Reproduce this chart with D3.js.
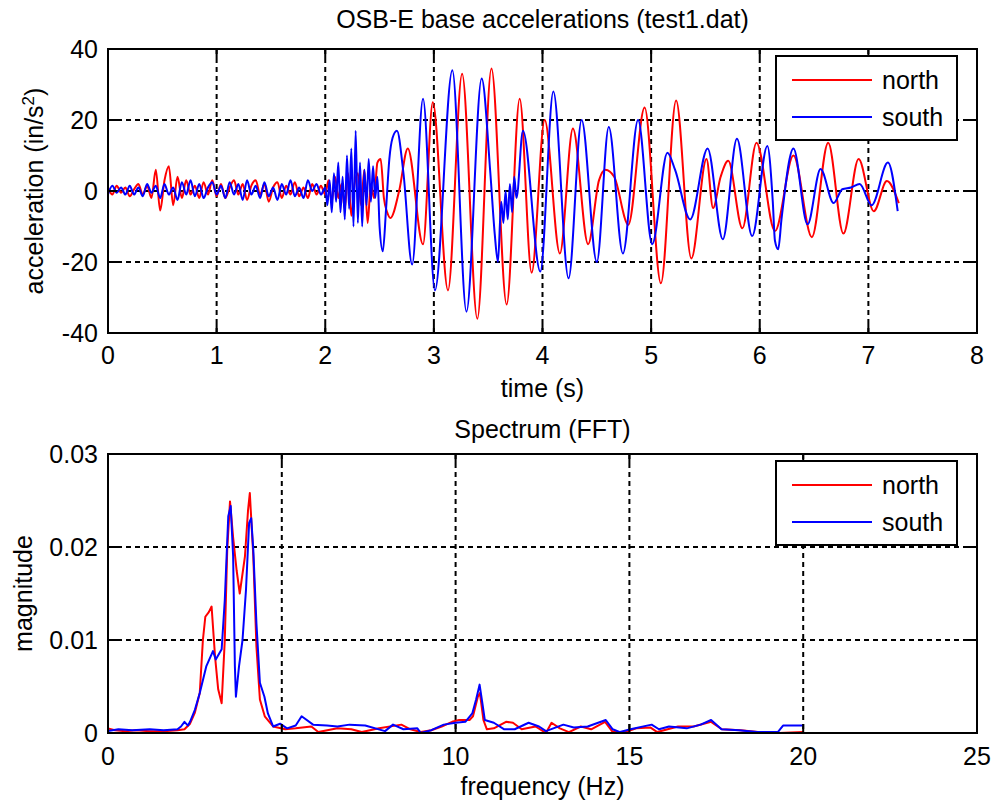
<!DOCTYPE html>
<html>
<head>
<meta charset="utf-8">
<script src="https://cdn.jsdelivr.net/npm/d3@7"></script>
<style>
    html, body { margin: 0; padding: 0; background: #fff; }
    svg { display: block; font-family: 'Liberation Sans', Arial, sans-serif; }
</style>
</head>
<body>
<div id="chart"></div>
<script>
// Tick values and series labels
const timeTicks = [0, 1, 2, 3, 4, 5, 6, 7, 8];
const accelTicks = [-40, -20, 0, 20, 40];
const freqTicks = [0, 5, 10, 15, 20, 25];
const magTicks = [0, 0.01, 0.02, 0.03];
const seriesNames = ['north', 'south'];

// Base accelerations, [time (s), acceleration (in/s^2)]
const northAccel = [
    [0, 1], [0.04, -1], [0.08, 1.5], [0.12, -0.5], [0.16, 1], [0.2, -1.5], [0.24, 0.5], [0.28, 2],
    [0.32, -1], [0.36, 1.5], [0.4, -2], [0.44, 6], [0.48, -5.5], [0.52, 3], [0.56, 7], [0.6, -4],
    [0.64, 4], [0.68, -2], [0.72, 3], [0.76, -1], [0.8, 1.5], [0.84, -2], [0.88, 2.5], [0.92, -1],
    [0.96, 3], [1, -1.5], [1.04, 2], [1.08, -2], [1.12, 1], [1.16, 3], [1.2, -1], [1.24, 2],
    [1.28, -2.5], [1.32, 1.5], [1.36, 3], [1.4, -1], [1.44, 2], [1.48, -3], [1.52, 1], [1.56, 2.5],
    [1.6, -2], [1.64, 1.5], [1.68, -1], [1.72, 2.5], [1.76, -1.5], [1.8, 1], [1.84, -2], [1.88, 2],
    [1.92, -1], [1.96, 1.5], [2, -1], [2.03, 3], [2.06, -3], [2.09, 4], [2.12, -2], [2.15, 2],
    [2.18, -5], [2.21, 5], [2.24, -7], [2.27, 2], [2.3, 5], [2.33, -4], [2.36, 6], [2.39, -9],
    [2.42, 2], [2.45, -2], [2.48, 8], [2.51, 9], [2.54, -2], [2.57, -6], [2.6, -7.6], [2.68, 0],
    [2.76, 12], [2.9, -15], [2.99, 25], [3.13, -28], [3.26, 33], [3.4, -36], [3.53, 34.5], [3.67, -32],
    [3.79, 26], [3.9, -23], [4.02, 20], [4.16, -17.6], [4.28, 17.6], [4.42, -15], [4.52, 3], [4.58, 6],
    [4.66, 4], [4.79, -9.5], [4.94, 23.5], [5.09, -26], [5.23, 25.5], [5.37, -19], [5.51, 9], [5.57, -4.8],
    [5.64, 4], [5.71, 8.5], [5.84, -10.5], [5.97, 13.6], [6.14, -11.3], [6.31, 10], [6.48, -13], [6.63, 13.6],
    [6.77, -12], [6.91, 9], [7.05, -5.7], [7.17, 2.8], [7.28, -3.4]
];

const southAccel = [
    [0, -1], [0.04, 1.5], [0.08, -0.5], [0.12, 1], [0.16, -1], [0.2, 1.5], [0.24, -1], [0.28, 1],
    [0.32, -1.5], [0.36, 2], [0.4, -0.5], [0.44, 1.5], [0.48, -2], [0.52, 2], [0.56, -1], [0.6, 1],
    [0.64, -2.5], [0.68, 2.5], [0.72, -1], [0.76, 3], [0.8, -1.5], [0.84, 2], [0.88, -2], [0.92, 1],
    [0.96, 2.5], [1, -1], [1.04, 1.5], [1.08, -2], [1.12, 2.5], [1.16, -1], [1.2, 2], [1.24, -2.5],
    [1.28, 3], [1.32, -1], [1.36, 1.5], [1.4, -2], [1.44, 2.5], [1.48, -1.5], [1.52, 1], [1.56, -2.5],
    [1.6, 2], [1.64, -1], [1.68, 3], [1.72, -1.5], [1.76, 1], [1.8, -2], [1.84, 3], [1.88, 0],
    [1.92, 2], [1.96, -1], [2, 1], [2.02, -4], [2.04, 3], [2.06, -6], [2.08, 5], [2.1, -3],
    [2.12, 8], [2.14, -6], [2.16, 4], [2.18, -8], [2.2, 10], [2.22, -5], [2.24, 12], [2.26, -10],
    [2.28, 17], [2.3, -9], [2.32, 8], [2.34, -10], [2.36, 6], [2.38, -4], [2.4, 9], [2.42, -3],
    [2.44, 7], [2.46, -2], [2.48, 4], [2.5, -10], [2.53, -17], [2.56, -5], [2.59, 9], [2.62, 15],
    [2.66, 17], [2.72, 5], [2.8, -20.7], [2.9, 26], [3.01, -28], [3.17, 34], [3.3, -34], [3.44, 31.7],
    [3.52, 5], [3.56, -12], [3.59, -20], [3.62, -3], [3.64, -9], [3.66, 0], [3.68, -8], [3.7, 2],
    [3.72, -6], [3.74, 4], [3.76, -2], [3.82, 17], [3.98, -22.7], [4.1, 28], [4.24, -24.6], [4.36, 20],
    [4.5, -20], [4.61, 18], [4.74, -17.6], [4.88, 20], [5.01, -15], [5.15, 10.8], [5.22, 6], [5.36, -8],
    [5.52, 12], [5.66, -13.6], [5.79, 14.7], [5.93, -12.7], [6.07, 12.7], [6.12, -3], [6.14, -14], [6.17, -16.4],
    [6.2, -8], [6.31, 12], [6.44, -9.4], [6.56, 6.2], [6.68, -3.4], [6.76, 0.5], [6.84, 1], [6.92, 2],
    [7.03, -4], [7.18, 8], [7.27, -5.7]
];

// Spectrum magnitudes, [frequency (Hz), magnitude]
const northSpectrum = [
    [0, 0.0005], [0.2, 0.0003], [0.5, 0.0002], [0.8, 0.0003], [1.2, 0.0002], [1.6, 0.0002], [2, 0.0003],
    [2.2, 0.0004], [2.36, 0.001], [2.5, 0.0022], [2.64, 0.0043], [2.73, 0.01], [2.8, 0.0125], [2.9, 0.013],
    [2.98, 0.0136], [3.08, 0.0082], [3.17, 0.0047], [3.27, 0.0032], [3.36, 0.01], [3.43, 0.0197], [3.51, 0.0249],
    [3.6, 0.021], [3.7, 0.0175], [3.79, 0.015], [3.94, 0.019], [4.03, 0.024], [4.08, 0.0258], [4.18, 0.019],
    [4.27, 0.0093], [4.37, 0.0036], [4.51, 0.0018], [4.75, 0.0007], [5.1, 0.0004], [5.4, 0.0005], [5.85, 0.0007],
    [6.05, 0.0001], [6.6, 0.0005], [7, 0.0004], [7.3, 0.0001], [7.8, 0.0005], [8.44, 0.0009], [8.7, 0.0004],
    [9, 0.0001], [9.3, 0.0003], [9.6, 0.0007], [9.9, 0.0012], [10.1, 0.0014], [10.4, 0.0014], [10.5, 0.0018],
    [10.64, 0.0039], [10.7, 0.0043], [10.8, 0.0014], [10.9, 0.0004], [11.1, 0.0005], [11.45, 0.0012], [11.65, 0.0011],
    [11.9, 0.0004], [12.3, 0.0007], [12.6, 0], [12.76, 0.0011], [13, 0.0005], [13.26, 0.0001], [13.6, 0.0007],
    [13.9, 0.0004], [14.3, 0.0012], [14.5, 0.0002], [14.8, 0], [15.2, 0.0005], [15.6, 0.0006], [15.8, 0.0001],
    [16.4, 0.0007], [16.85, 0.0007], [17.35, 0.0012], [17.66, 0.0004], [18.2, 0.0003], [18.7, 0.0001], [19.3, 0],
    [20, 0.0001]
];

const southSpectrum = [
    [0, 0.0002], [0.3, 0.0004], [0.7, 0.0003], [1.2, 0.0004], [1.6, 0.0003], [2, 0.0004], [2.1, 0.0007],
    [2.2, 0.0012], [2.3, 0.0008], [2.36, 0.0012], [2.5, 0.0025], [2.64, 0.0043], [2.83, 0.0072], [3.02, 0.0088],
    [3.1, 0.0079], [3.27, 0.009], [3.36, 0.0143], [3.46, 0.0233], [3.53, 0.0244], [3.6, 0.019], [3.65, 0.0072],
    [3.68, 0.0039], [3.77, 0.0072], [3.87, 0.01], [3.97, 0.0154], [4.06, 0.0226], [4.12, 0.0231], [4.18, 0.0197],
    [4.27, 0.0118], [4.37, 0.0054], [4.5, 0.0039], [4.6, 0.0021], [4.75, 0.0007], [4.95, 0.001], [5.15, 0.0005],
    [5.4, 0.0008], [5.57, 0.0018], [5.9, 0.0009], [6.3, 0.0008], [6.6, 0.0007], [6.95, 0.0009], [7.4, 0.0008],
    [7.97, 0.0002], [8.2, 0.0009], [8.5, 0.0004], [8.9, 0.0005], [9, 0], [9.3, 0.0003], [9.66, 0.0009],
    [10, 0.0011], [10.28, 0.0012], [10.48, 0.0021], [10.59, 0.0036], [10.69, 0.0052], [10.77, 0.0032], [10.84, 0.0014],
    [11.1, 0.0011], [11.4, 0.0004], [11.7, 0.0004], [12.1, 0.0011], [12.4, 0.0007], [12.6, 0.0002], [13.1, 0.0009],
    [13.4, 0.0006], [13.8, 0.0007], [14.32, 0.0014], [14.52, 0.0004], [14.73, 0.0001], [15.03, 0.0004], [15.64, 0.0009],
    [15.85, 0.0004], [16.14, 0.0007], [16.65, 0.0005], [17.05, 0.0009], [17.35, 0.0014], [17.65, 0.0004], [18.15, 0.0003],
    [18.67, 0.0001], [19.27, 0.0001], [19.42, 0.0008], [20, 0.0008]
];

const WIDTH = 991;
const HEIGHT = 805;
const FONT_SIZE = 25;
const COLORS = ['#ff0000', '#0000ff'];

const svg = d3.select('#chart')
    .append('svg')
    .attr('width', WIDTH)
    .attr('height', HEIGHT);

/**
 * Draw one MATLAB-style subplot
 */
function drawPanel(opts) {
    const { left, top, width, height } = opts.box;

    const x = d3.scaleLinear().domain(opts.xDomain).range([0, width]);
    const y = d3.scaleLinear().domain(opts.yDomain).range([height, 0]);

    const g = svg.append('g')
        .attr('transform', `translate(${left},${top})`);

    // Clip so the traces stay inside the box
    g.append('clipPath')
        .attr('id', opts.id + '-clip')
        .append('rect')
        .attr('width', width)
        .attr('height', height);

    // Dashed grid
    g.append('g').selectAll('line')
        .data(opts.xTicks.slice(1, -1))
        .join('line')
        .attr('x1', d => x(d)).attr('x2', d => x(d))
        .attr('y1', 0).attr('y2', height)
        .attr('stroke', '#000')
        .attr('stroke-width', 2)
        .attr('stroke-dasharray', '5,4');

    g.append('g').selectAll('line')
        .data(opts.yTicks.slice(1, -1))
        .join('line')
        .attr('y1', d => y(d)).attr('y2', d => y(d))
        .attr('x1', 0).attr('x2', width)
        .attr('stroke', '#000')
        .attr('stroke-width', 2)
        .attr('stroke-dasharray', '5,4');

    // Traces
    const line = d3.line()
        .x(d => x(d[0]))
        .y(d => y(d[1]))
        .curve(opts.curve);

    g.append('g')
        .attr('clip-path', `url(#${opts.id}-clip)`)
        .selectAll('path')
        .data(opts.series)
        .join('path')
        .attr('d', d => line(d))
        .attr('fill', 'none')
        .attr('stroke', (d, i) => COLORS[i])
        .attr('stroke-width', 2)
        .attr('stroke-linejoin', 'round');

    // Inward ticks on all four sides
    const tickLen = 9;
    const ticks = g.append('g').attr('stroke', '#000').attr('stroke-width', 2);
    opts.xTicks.forEach(t => {
        ticks.append('line').attr('x1', x(t)).attr('x2', x(t)).attr('y1', height).attr('y2', height - tickLen);
        ticks.append('line').attr('x1', x(t)).attr('x2', x(t)).attr('y1', 0).attr('y2', tickLen);
    });
    opts.yTicks.forEach(t => {
        ticks.append('line').attr('y1', y(t)).attr('y2', y(t)).attr('x1', 0).attr('x2', tickLen);
        ticks.append('line').attr('y1', y(t)).attr('y2', y(t)).attr('x1', width).attr('x2', width - tickLen);
    });

    // Axis box
    g.append('rect')
        .attr('width', width)
        .attr('height', height)
        .attr('fill', 'none')
        .attr('stroke', '#000')
        .attr('stroke-width', 2);

    // Tick labels
    g.append('g').selectAll('text')
        .data(opts.xTicks)
        .join('text')
        .attr('x', d => x(d))
        .attr('y', height + opts.xTickOffset)
        .attr('dy', '0.35em')
        .attr('text-anchor', 'middle')
        .attr('font-size', FONT_SIZE)
        .attr('fill', '#000')
        .text(d => d);

    g.append('g').selectAll('text')
        .data(opts.yTicks)
        .join('text')
        .attr('x', -10)
        .attr('y', d => y(d))
        .attr('dy', '0.35em')
        .attr('text-anchor', 'end')
        .attr('font-size', FONT_SIZE)
        .attr('fill', '#000')
        .text(opts.yFormat);

    // Title and axis labels
    g.append('text')
        .attr('x', width / 2)
        .attr('y', opts.titleY)
        .attr('dy', '0.35em')
        .attr('text-anchor', 'middle')
        .attr('font-size', FONT_SIZE)
        .text(opts.title);

    g.append('text')
        .attr('x', width / 2)
        .attr('y', height + opts.xLabelOffset)
        .attr('dy', '0.35em')
        .attr('text-anchor', 'middle')
        .attr('font-size', FONT_SIZE)
        .text(opts.xLabel);

    const yl = g.append('text')
        .attr('transform', `translate(${opts.yLabelX},${height / 2}) rotate(-90)`)
        .attr('dy', '0.35em')
        .attr('text-anchor', 'middle')
        .attr('font-size', FONT_SIZE);
    opts.yLabel(yl);

    // Legend
    const lg = g.append('g')
        .attr('transform', `translate(${opts.legend.x},${opts.legend.y})`);
    lg.append('rect')
        .attr('width', 181)
        .attr('height', 84)
        .attr('fill', '#fff')
        .attr('stroke', '#000')
        .attr('stroke-width', 2);
    seriesNames.forEach((name, i) => {
        const ly = 24 + i * 37;
        lg.append('line')
            .attr('x1', 16).attr('x2', 96)
            .attr('y1', ly).attr('y2', ly)
            .attr('stroke', COLORS[i])
            .attr('stroke-width', 2);
        lg.append('text')
            .attr('x', 106)
            .attr('y', ly)
            .attr('dy', '0.35em')
            .attr('font-size', FONT_SIZE)
            .text(name);
    });
}

drawPanel({
    id: 'accel',
    box: { left: 108, top: 49, width: 869, height: 284 },
    xDomain: [0, 8],
    yDomain: [-40, 40],
    xTicks: timeTicks,
    yTicks: accelTicks,
    yFormat: d => d,
    series: [northAccel, southAccel],
    curve: d3.curveMonotoneX,
    title: 'OSB-E base accelerations (test1.dat)',
    titleY: -30,
    xLabel: 'time (s)',
    xTickOffset: 22,
    xLabelOffset: 55,
    yLabelX: -74,
    yLabel: t => {
        t.append('tspan').text('acceleration (in/s');
        t.append('tspan').attr('baseline-shift', 'super').attr('font-size', 17).text('2');
        t.append('tspan').text(')');
    },
    legend: { x: 668, y: 7 }
});

drawPanel({
    id: 'fft',
    box: { left: 108, top: 454, width: 869, height: 279 },
    xDomain: [0, 25],
    yDomain: [0, 0.03],
    xTicks: freqTicks,
    yTicks: magTicks,
    yFormat: d => d === 0 ? '0' : d.toFixed(2),
    series: [northSpectrum, southSpectrum],
    curve: d3.curveLinear,
    title: 'Spectrum (FFT)',
    titleY: -25,
    xLabel: 'frequency (Hz)',
    xTickOffset: 23,
    xLabelOffset: 53,
    yLabelX: -85,
    yLabel: t => t.text('magnitude'),
    legend: { x: 668, y: 7 }
});
</script>
</body>
</html>
